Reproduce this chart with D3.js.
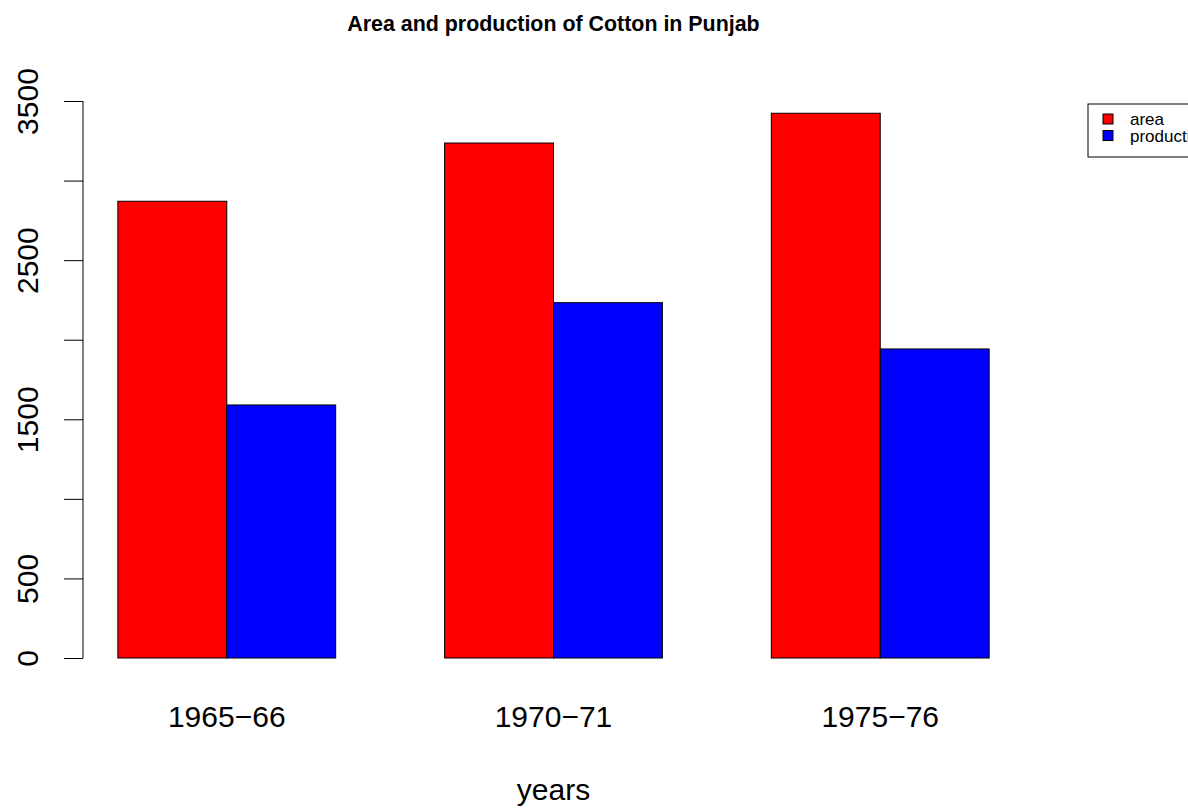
<!DOCTYPE html>
<html>
<head>
<meta charset="utf-8">
<script src="https://cdn.jsdelivr.net/npm/d3@7"></script>
<style>
  body { margin: 0; background: #fff; }
  text { font-family: "Liberation Sans", Arial, sans-serif; }
</style>
</head>
<body>
<div id="chart"></div>
<script>
var years = ["1965\u221266", "1970\u221271", "1975\u221276"];
var series = ["area", "production"];
var area = [2870, 3236, 3423];
var production = [1590, 2233, 1942];
var colors = ["#ff0000", "#0000ff"];
var yTicks = [0, 500, 1000, 1500, 2000, 2500, 3000, 3500];
var yLabels = [0, 500, 1500, 2500, 3500];

var width = 1188, height = 808;

var svg = d3.select("#chart").append("svg")
  .attr("width", width)
  .attr("height", height);

// barplot units: each group = 2 bars of width 1, space 1 before each group
var x = d3.scaleLinear().domain([0.68, 9.32]).range([83, 1024]);
var y = d3.scaleLinear().domain([0, 3500]).range([658, 101]);

var data = [];
years.forEach(function(yr, i) {
  data.push({ year: yr, s: 0, value: area[i], left: 1 + 3 * i });
  data.push({ year: yr, s: 1, value: production[i], left: 2 + 3 * i });
});

svg.selectAll(".bar")
  .data(data)
  .enter().append("rect")
    .attr("class", "bar")
    .attr("x", function(d) { return x(d.left); })
    .attr("width", function(d) { return x(d.left + 1) - x(d.left); })
    .attr("y", function(d) { return y(d.value); })
    .attr("height", function(d) { return y(0) - y(d.value); })
    .style("fill", function(d) { return colors[d.s]; })
    .style("stroke", "#000")
    .style("stroke-width", 1);

// y axis (R drops overlapping labels)
var yAxis = d3.axisLeft(y)
  .tickValues(yTicks)
  .tickSize(19)
  .tickFormat(function(d) { return yLabels.indexOf(d) >= 0 ? d : ""; });

var gy = svg.append("g")
  .attr("transform", "translate(83,0)")
  .call(yAxis);
gy.select(".domain").attr("d", "M0," + y(3500) + "V" + y(0)).style("stroke", "#000");
gy.selectAll(".tick line").style("stroke", "#000");
gy.selectAll(".tick text")
  .attr("x", null).attr("dy", null)
  .attr("transform", "translate(-45,0) rotate(-90)")
  .attr("text-anchor", "middle")
  .style("font-size", "30px")
  .style("font-family", "Liberation Sans, Arial, sans-serif")
  .style("fill", "#000");

// x labels
svg.selectAll(".xlab")
  .data(years)
  .enter().append("text")
    .attr("class", "xlab")
    .attr("x", function(d, i) { return x(2 + 3 * i); })
    .attr("y", 727)
    .attr("text-anchor", "middle")
    .style("font-size", "30px")
    .text(function(d) { return d; });

svg.append("text")
  .attr("x", (x(0.68) + x(9.32)) / 2)
  .attr("y", 800)
  .attr("text-anchor", "middle")
  .style("font-size", "30px")
  .text("years");

svg.append("text")
  .attr("x", (x(0.68) + x(9.32)) / 2)
  .attr("y", 31)
  .attr("text-anchor", "middle")
  .style("font-size", "21.4px")
  .style("font-weight", "bold")
  .text("Area and production of Cotton in Punjab");

// legend (runs off the right edge like the original)
var legend = svg.append("g").attr("transform", "translate(1088,104)");
legend.append("rect")
  .attr("width", 140).attr("height", 53)
  .style("fill", "#fff").style("stroke", "#000");
var item = legend.selectAll(".item")
  .data(series)
  .enter().append("g")
    .attr("transform", function(d, i) { return "translate(0," + (15 + i * 16.5) + ")"; });
item.append("rect")
  .attr("x", 15).attr("y", -5).attr("width", 10).attr("height", 10)
  .style("fill", function(d, i) { return colors[i]; })
  .style("stroke", "#000");
item.append("text")
  .attr("x", 42).attr("y", 6)
  .style("font-size", "17px")
  .text(function(d) { return d; });
</script>
</body>
</html>
